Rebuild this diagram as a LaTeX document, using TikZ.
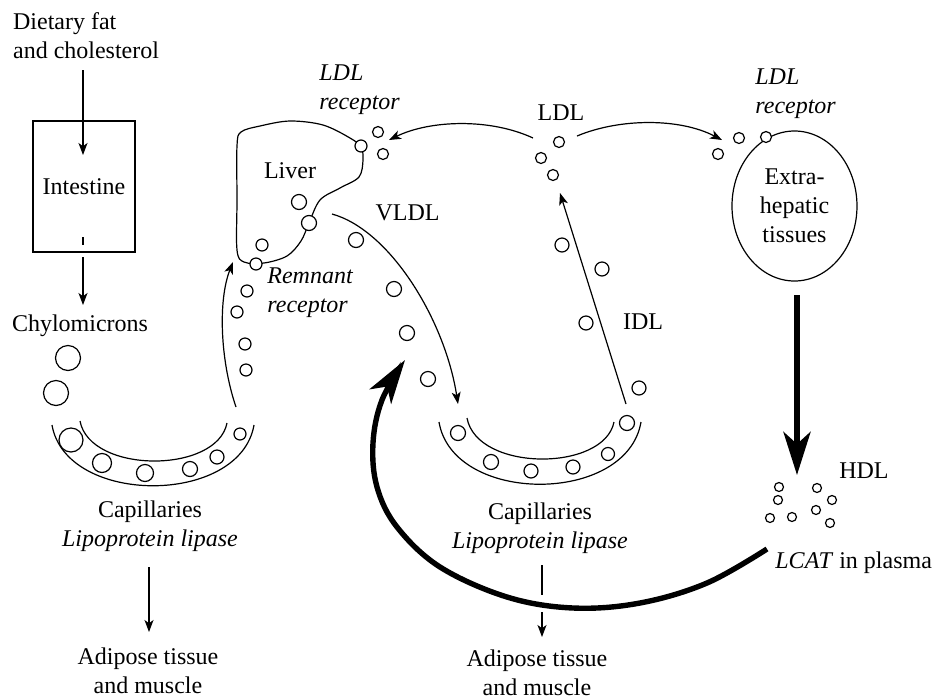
\documentclass[tikz,border=0pt]{standalone}
\usepackage{fontspec}
\setmainfont{Liberation Serif}
\usetikzlibrary{arrows.meta,shapes.geometric}
\begin{document}
\begin{tikzpicture}[x=0.5pt,y=-0.5pt,
  every node/.style={inner sep=0pt, font=\fontsize{12pt}{14.5pt}\selectfont},
  txt/.style={align=center},
  ltxt/.style={align=left, anchor=west},
  thin/.style={line width=0.6pt},
  flow/.style={thin, -{Stealth[length=6pt,width=4.5pt,inset=1.6pt]}},
  heavy/.style={line width=2.7pt, -{Stealth[length=22pt,width=13pt,inset=6pt]}},
  blob/.style={thin, draw, fill=white},
]
\useasboundingbox (0,0) rectangle (934,698);

% ---------- text labels ----------
\node[ltxt] (diet) at (12.7,36) {Dietary fat\\and cholesterol};
\node[draw, thin, minimum width=51pt, minimum height=65.5pt] (intestine) at (84,186.5) {Intestine};
\node (chylo) at (80,326) {Chylomicrons};
\node[txt] (cap1) at (150,526) {Capillaries\\\textit{Lipoprotein lipase}};
\node[txt] (adip1) at (148,671) {Adipose tissue\\and muscle};
\node (liver) at (290,171) {Liver};
\node[ltxt] (ldlrecL) at (319,90) {\textit{LDL}\\\textit{receptor}};
\node[ltxt] (remrec) at (267,293) {\textit{Remnant}\\\textit{receptor}};
\node (vldl) at (407.5,213) {VLDL};
\node (ldl) at (561,113) {LDL};
\node (idl) at (643,322) {IDL};
\node[ltxt] (ldlrecR) at (755,94) {\textit{LDL}\\\textit{receptor}};
\node[draw, thin, ellipse, align=center, minimum width=62.5pt, minimum height=75pt] (extra) at (794.5,206) {Extra-\\hepatic\\tissues};
\node (hdl) at (864,471) {HDL};
\node[ltxt] (lcat) at (775,563) {\textit{LCAT} in plasma};
\node[txt] (cap2) at (540,528) {Capillaries\\\textit{Lipoprotein lipase}};
\node[txt] (adip2) at (537,673) {Adipose tissue\\and muscle};

% ---------- connector end points ----------
\coordinate (d0) at (83,70);
\coordinate (d1) at (83,155);
\coordinate (i0) at (83,237);
\coordinate (i1) at (83,245);
\coordinate (c0) at (83,257);
\coordinate (c1) at (83,305);
\coordinate (r0) at (236,407);
\coordinate (r1) at (233,262);
\coordinate (v0) at (332,214);
\coordinate (v1) at (458,404);
\coordinate (q0) at (626,404);
\coordinate (q1) at (560,193);
\coordinate (l0) at (533,138);
\coordinate (l1) at (389,140);
\coordinate (m0) at (577,136);
\coordinate (m1) at (722,140);
\coordinate (a0) at (149,567);
\coordinate (a1) at (149,632);
\coordinate (b0) at (542,565);
\coordinate (b1) at (542,595);
\coordinate (b2) at (542,612);
\coordinate (b3) at (542,637);
\coordinate (h0) at (797,295);
\coordinate (h1) at (797,475);

% ---------- liver outline ----------
\draw[thin] plot[smooth cycle, tension=0.55] coordinates {
  (237,250) (237,200) (237,146) (241,132) (260,126) (290,121) (323,125)
  (350,138) (361,147) (363,160) (359,177) (340,188) (320,200) (309,223)
  (301,241) (287,256) (264,263) (244,262)};

% ---------- capillaries ----------
\draw[thin] (52,425) .. controls (66,506) and (240,506) .. (254,425);
\draw[thin] (80,421) .. controls (90,474) and (217,474) .. (227,423);
\draw[thin] (439,422) .. controls (453,505) and (627,505) .. (641,422);
\draw[thin] (467,418) .. controls (477,472) and (604,472) .. (614,422);

% ---------- thin flows ----------
\draw[flow] (d0) -- (d1);
\draw[thin] (i0) -- (i1);
\draw[flow] (c0) -- (c1);
\draw[flow] (r0) .. controls (220,360) and (218,300) .. (r1);
\draw[flow] (v0) .. controls (390,230) and (445,320) .. (v1);
\draw[flow] (q0) -- (q1);
\draw[flow] (l0) .. controls (490,118) and (430,120) .. (l1);
\draw[flow] (m0) .. controls (620,118) and (680,118) .. (m1);
\draw[flow] (a0) -- (a1);
\draw[thin] (b0) -- (b1);
\draw[flow] (b2) -- (b3);

% ---------- heavy flows ----------
\draw[line width=3pt, -{Stealth[length=21.5pt,width=13.5pt,inset=6pt]}] (h0) -- (h1);
\draw[heavy] plot[smooth, tension=0.6] coordinates {
  (767,549) (707,583) (640,603) (573,608) (507,597) (440,567) (397,527)
  (377,487) (373,443) (382,400) (405,360)};

% ---------- lipoprotein particles ----------
\foreach \x/\y/\r in {
  68/358/12.5, 56/393/12.5,
  71/440/12, 102/463/9.5, 145/473/8.5, 190/469/7.5, 217/457/7, 240/434/6,
  247/291/6, 237/312/6, 245/344/6, 246/370/6,
  361/146/6, 309/223/7.5, 256/264/6, 299/202/7.5, 262/245/6,
  378/132/5.5, 383/154/5.5,
  559/142/5.5, 541/158/5.5, 553/175/5.5,
  718/154/5.5, 739/138/5.5, 766/137/5.5,
  356/240/7.5, 394/289/7.5, 407/333/7.5, 428/379/7.5,
  562/245/7, 602/269/7, 586/323/7, 639/388/7,
  458/433/7.5, 491/462/7.5, 531/471/7, 573/467/7, 608/454/6.5, 627/423/7.5,
  779/487/4.5, 778/500/4.5, 770/518/4.5, 792/517/4.5,
  817/488/4.5, 832/500/4.5, 816/510/4.5, 830/523/4.5}
  \draw[blob] (\x,\y) circle[radius={\r*0.5pt}];
\end{tikzpicture}
\end{document}
